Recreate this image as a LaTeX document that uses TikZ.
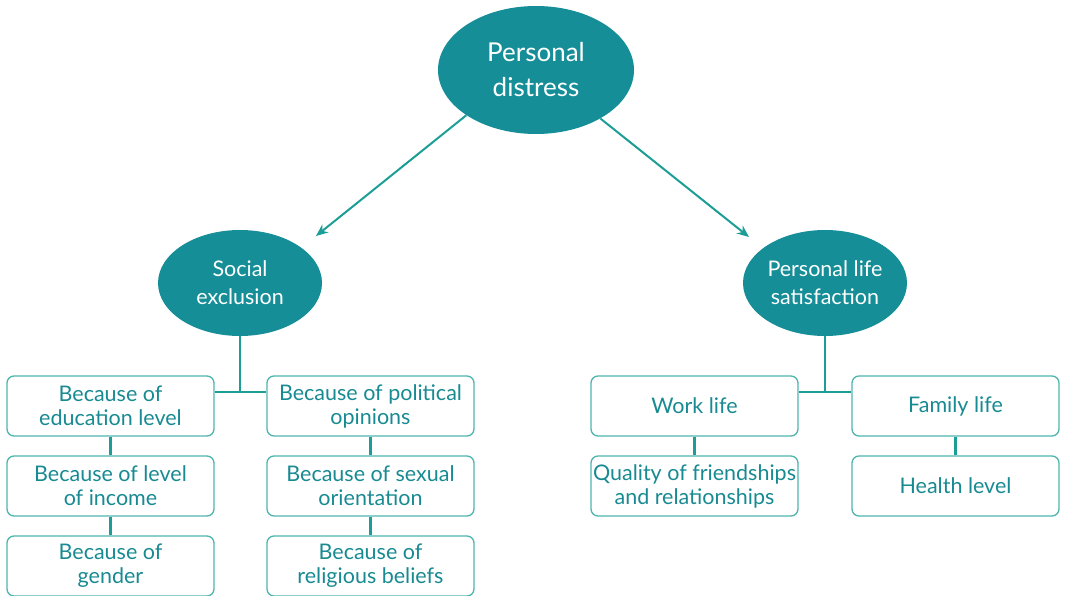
\documentclass[tikz,border=0pt]{standalone}
\usepackage{fontspec}
\setmainfont{Lato}
\usetikzlibrary{shapes.geometric,arrows.meta}
\definecolor{ellfill}{RGB}{22,142,152}
\definecolor{linec}{RGB}{28,158,150}
\definecolor{boxc}{RGB}{78,180,172}
\definecolor{txtc}{RGB}{24,138,146}
\tikzset{
  ell/.style={ellipse, fill=ellfill, draw=none, text=white, inner sep=0pt, align=center},
  box/.style={draw=boxc, line width=1.3pt, rounded corners=7pt, minimum width=207pt, minimum height=60pt,
    text=txtc, align=center, inner sep=0pt, font=\fontsize{21.5}{24}\selectfont},
  conn/.style={draw=linec, line width=2.6pt},
  arr/.style={draw=linec, line width=2pt, -{Stealth[length=12pt,width=10pt]}}
}
\begin{document}
\begin{tikzpicture}[x=1pt,y=-1pt]
\useasboundingbox (0,0) rectangle (1068,596);
\node[ell, minimum width=196pt, minimum height=128pt, font=\fontsize{26}{35}\selectfont] (pd) at (536,70) {Personal\\distress};
\node[ell, minimum width=164pt, minimum height=106pt, font=\fontsize{21.5}{28}\selectfont] (se) at (240,283) {Social\\exclusion};
\node[ell, minimum width=164pt, minimum height=106pt, font=\fontsize{21.5}{28}\selectfont] (ps) at (825,283) {Personal life\\satisfaction};
\coordinate (t1) at (316,236);
\coordinate (t2) at (749,237);
\draw[arr] (pd.213) -- (t1);
\draw[arr] (pd.323) -- (t2);
% left boxes
\node[box] (l1) at (110.5,406) {Because of\\education level};
\node[box] (l2) at (110.5,486) {Because of level\\of income};
\node[box] (l3) at (110.5,566) {Because of\\gender};
\node[box] (m1) at (370.5,406) {Because of political\\opinions};
\node[box] (m2) at (370.5,486) {Because of sexual\\orientation};
\node[box] (m3) at (370.5,566) {Because of\\religious beliefs};
\node[box] (r1) at (694.5,406) {Work life};
\node[box] (r2) at (694.5,486) {Quality of friendships\\and relationships};
\node[box] (s1) at (955.5,406) {Family life};
\node[box] (s2) at (955.5,486) {Health level};
% connectors
\draw[conn] (se.south) -- (se.south |- 0,392);
\draw[conn] (l1.east |- 0,392) -- (m1.west |- 0,392);
\draw[conn] (ps.south) -- (ps.south |- 0,392);
\draw[conn] (r1.east |- 0,392) -- (s1.west |- 0,392);
\draw[conn] (l1) -- (l2); \draw[conn] (l2) -- (l3);
\draw[conn] (m1) -- (m2); \draw[conn] (m2) -- (m3);
\draw[conn] (r1) -- (r2);
\draw[conn] (s1) -- (s2);
\end{tikzpicture}
\end{document}
